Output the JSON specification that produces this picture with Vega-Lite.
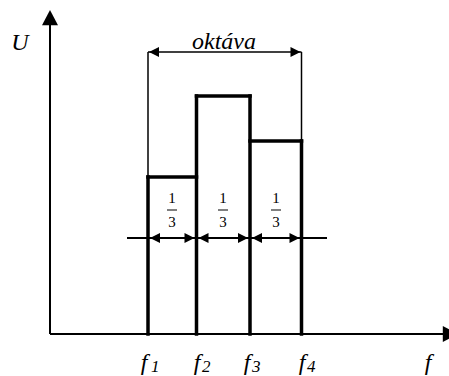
{
  "$schema": "https://vega.github.io/schema/vega-lite/v6.json",
  "width": 449,
  "height": 376,
  "padding": 0,
  "autosize": {"type": "none"},
  "background": "white",
  "config": {"view": {"stroke": null}},
  "datasets": {
    "segs": [
      {"x": 0, "y": 0, "x2": 395, "y2": 0, "kind": "medium"},
      {"x": 0, "y": 0, "x2": 0, "y2": 312, "kind": "medium"},
      {"x": 77, "y": 96, "x2": 277, "y2": 96, "kind": "medium"},
      {"x": 98, "y": 0, "x2": 98, "y2": 157, "kind": "heavy"},
      {"x": 98, "y": 157, "x2": 146.5, "y2": 157, "kind": "heavy"},
      {"x": 146.5, "y": 0, "x2": 146.5, "y2": 238, "kind": "heavy"},
      {"x": 146.5, "y": 238, "x2": 200, "y2": 238, "kind": "heavy"},
      {"x": 200, "y": 0, "x2": 200, "y2": 238, "kind": "heavy"},
      {"x": 200, "y": 193, "x2": 251.5, "y2": 193, "kind": "heavy"},
      {"x": 251.5, "y": 0, "x2": 251.5, "y2": 193, "kind": "heavy"},
      {"x": 98, "y": 157, "x2": 98, "y2": 282, "kind": "light"},
      {"x": 251.5, "y": 193, "x2": 251.5, "y2": 282, "kind": "light"},
      {"x": 98, "y": 282, "x2": 251.5, "y2": 282, "kind": "light"},
      {"x": 117, "y": 124, "x2": 127, "y2": 124, "kind": "thin"},
      {"x": 168, "y": 124, "x2": 178, "y2": 124, "kind": "thin"},
      {"x": 221, "y": 124, "x2": 231, "y2": 124, "kind": "thin"}
    ],
    "heads": [
      {"x": 0, "y": 324, "dir": "up"},
      {"x": 408, "y": 0, "dir": "right"},
      {"x": 99, "y": 282, "dir": "left"},
      {"x": 250.5, "y": 282, "dir": "right"},
      {"x": 100, "y": 96, "dir": "left"},
      {"x": 148.5, "y": 96, "dir": "left"},
      {"x": 202, "y": 96, "dir": "left"},
      {"x": 144.5, "y": 96, "dir": "right"},
      {"x": 198, "y": 96, "dir": "right"},
      {"x": 249.5, "y": 96, "dir": "right"}
    ],
    "labels": [
      {"x": -30, "y": 284, "text": "U", "kind": "main"},
      {"x": 174, "y": 285, "text": "oktáva", "kind": "main"},
      {"x": 94, "y": -36, "text": "f", "kind": "main"},
      {"x": 147, "y": -36, "text": "f", "kind": "main"},
      {"x": 197, "y": -36, "text": "f", "kind": "main"},
      {"x": 252, "y": -36, "text": "f", "kind": "main"},
      {"x": 378, "y": -36, "text": "f", "kind": "main"},
      {"x": 101, "y": -38, "text": "1", "kind": "sub"},
      {"x": 152, "y": -38, "text": "2", "kind": "sub"},
      {"x": 202, "y": -38, "text": "3", "kind": "sub"},
      {"x": 257, "y": -38, "text": "4", "kind": "sub"},
      {"x": 122, "y": 131, "text": "1", "kind": "frac"},
      {"x": 122, "y": 107, "text": "3", "kind": "frac"},
      {"x": 173, "y": 131, "text": "1", "kind": "frac"},
      {"x": 173, "y": 107, "text": "3", "kind": "frac"},
      {"x": 226, "y": 131, "text": "1", "kind": "frac"},
      {"x": 226, "y": 107, "text": "3", "kind": "frac"}
    ]
  },
  "encoding": {
    "x": {"field": "x", "type": "quantitative", "scale": {"domain": [-50, 399], "nice": false, "zero": false}, "axis": null},
    "y": {"field": "y", "type": "quantitative", "scale": {"domain": [-42, 334], "nice": false, "zero": false}, "axis": null}
  },
  "layer": [
    {
      "data": {"name": "segs"},
      "transform": [{"filter": "datum.kind === 'medium'"}],
      "mark": {"type": "rule", "color": "black", "strokeWidth": 2},
      "encoding": {"x2": {"field": "x2"}, "y2": {"field": "y2"}}
    },
    {
      "data": {"name": "segs"},
      "transform": [{"filter": "datum.kind === 'light'"}],
      "mark": {"type": "rule", "color": "black", "strokeWidth": 1.5},
      "encoding": {"x2": {"field": "x2"}, "y2": {"field": "y2"}}
    },
    {
      "data": {"name": "segs"},
      "transform": [{"filter": "datum.kind === 'thin'"}],
      "mark": {"type": "rule", "color": "black", "strokeWidth": 1},
      "encoding": {"x2": {"field": "x2"}, "y2": {"field": "y2"}}
    },
    {
      "data": {"name": "segs"},
      "transform": [{"filter": "datum.kind === 'heavy'"}],
      "mark": {"type": "rule", "color": "black", "strokeWidth": 3.5, "strokeCap": "square"},
      "encoding": {"x2": {"field": "x2"}, "y2": {"field": "y2"}}
    },
    {
      "data": {"name": "heads"},
      "transform": [{"filter": "datum.dir === 'up'"}],
      "mark": {"type": "point", "filled": true, "color": "black", "opacity": 1, "size": 256, "shape": "M0,0L-1,1.9L1,1.9Z"}
    },
    {
      "data": {"name": "heads"},
      "transform": [{"filter": "datum.dir === 'right' && datum.x > 300"}],
      "mark": {"type": "point", "filled": true, "color": "black", "opacity": 1, "size": 256, "shape": "M0,0L-1.9,-1L-1.9,1Z"}
    },
    {
      "data": {"name": "heads"},
      "transform": [{"filter": "datum.dir === 'right' && datum.x < 300"}],
      "mark": {"type": "point", "filled": true, "color": "black", "opacity": 1, "size": 100, "shape": "M0,0L-2,-1L-2,1Z"}
    },
    {
      "data": {"name": "heads"},
      "transform": [{"filter": "datum.dir === 'left'"}],
      "mark": {"type": "point", "filled": true, "color": "black", "opacity": 1, "size": 100, "shape": "M0,0L2,-1L2,1Z"}
    },
    {
      "data": {"name": "labels"},
      "transform": [{"filter": "datum.kind === 'main'"}],
      "mark": {"type": "text", "font": "Liberation Serif, DejaVu Serif, serif", "fontStyle": "italic", "fontSize": 24, "align": "center", "baseline": "alphabetic", "color": "black"},
      "encoding": {"text": {"field": "text"}}
    },
    {
      "data": {"name": "labels"},
      "transform": [{"filter": "datum.kind === 'sub'"}],
      "mark": {"type": "text", "font": "Liberation Serif, DejaVu Serif, serif", "fontStyle": "italic", "fontSize": 17, "align": "left", "baseline": "alphabetic", "color": "black"},
      "encoding": {"text": {"field": "text"}}
    },
    {
      "data": {"name": "labels"},
      "transform": [{"filter": "datum.kind === 'frac'"}],
      "mark": {"type": "text", "font": "Liberation Serif, DejaVu Serif, serif", "fontSize": 15, "align": "center", "baseline": "alphabetic", "color": "black"},
      "encoding": {"text": {"field": "text"}}
    }
  ]
}
